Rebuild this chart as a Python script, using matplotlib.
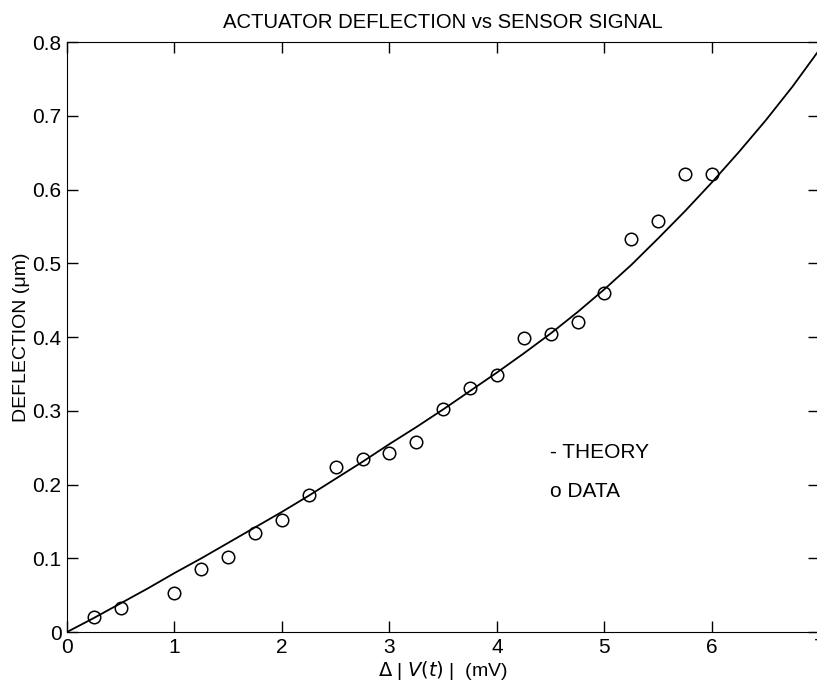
import numpy as np
import matplotlib.pyplot as plt

plt.rcParams['font.family'] = ['Liberation Sans', 'DejaVu Sans']

# theory curve
theory_x = [0, 0.25, 0.5, 0.75, 1.0, 1.25, 1.5, 1.75, 2.0, 2.25, 2.5, 2.75, 3.0, 3.25,
            3.5, 3.75, 4.0, 4.25, 4.5, 4.75, 5.0, 5.25, 5.5, 5.75, 6.0, 6.25, 6.5, 6.75, 7.0]
theory_y = [0, 0.019, 0.039, 0.059, 0.080, 0.100, 0.121, 0.142, 0.163, 0.185, 0.208, 0.231,
            0.255, 0.278, 0.302, 0.327, 0.352, 0.378, 0.405, 0.434, 0.465, 0.498, 0.534,
            0.571, 0.610, 0.651, 0.694, 0.740, 0.790]

# measured points
data_x = [0.25, 0.5, 1.0, 1.25, 1.5, 1.75, 2.0, 2.25, 2.5, 2.75, 3.0, 3.25, 3.5, 3.75,
          4.0, 4.25, 4.5, 4.75, 5.0, 5.25, 5.5, 5.75, 6.0]
data_y = [0.020, 0.033, 0.053, 0.085, 0.102, 0.134, 0.152, 0.186, 0.224, 0.235, 0.243,
          0.258, 0.302, 0.331, 0.349, 0.399, 0.404, 0.421, 0.460, 0.533, 0.558, 0.621, 0.621]

xticks = [0, 1, 2, 3, 4, 5, 6, 7]
yticks = [0, 0.1, 0.2, 0.3, 0.4, 0.5, 0.6, 0.7, 0.8]
ytick_labels = ['0', '0.1', '0.2', '0.3', '0.4', '0.5', '0.6', '0.7', '0.8']

fig = plt.figure(figsize=(8.17, 6.89), dpi=100)
ax = fig.add_axes([0.082, 0.0827, 0.921, 0.856])

ax.plot(theory_x, theory_y, color='black', lw=1.3)
ax.plot(data_x, data_y, 'o', mfc='none', mec='black', ms=9, mew=1.1)

ax.set_xlim(0, 7)
ax.set_ylim(0, 0.8)
ax.set_xticks(xticks)
ax.set_yticks(yticks)
ax.set_yticklabels(ytick_labels)
ax.tick_params(direction='in', length=8, width=1, top=True, right=True,
               labelsize=15, pad=4)

ax.set_title('ACTUATOR DEFLECTION vs SENSOR SIGNAL', fontsize=14.6, pad=10)
ax.set_ylabel('DEFLECTION (\u03bcm)', fontsize=14, labelpad=2)
ax.set_xlabel(r'$\Delta$ | $\it{V(t)}$ |  (mV)', fontsize=14, labelpad=2)

ax.text(4.49, 0.244, '- THEORY', fontsize=15, va='center')
ax.text(4.49, 0.191, 'o DATA', fontsize=15, va='center')

fig.savefig('out.png', dpi=100)
